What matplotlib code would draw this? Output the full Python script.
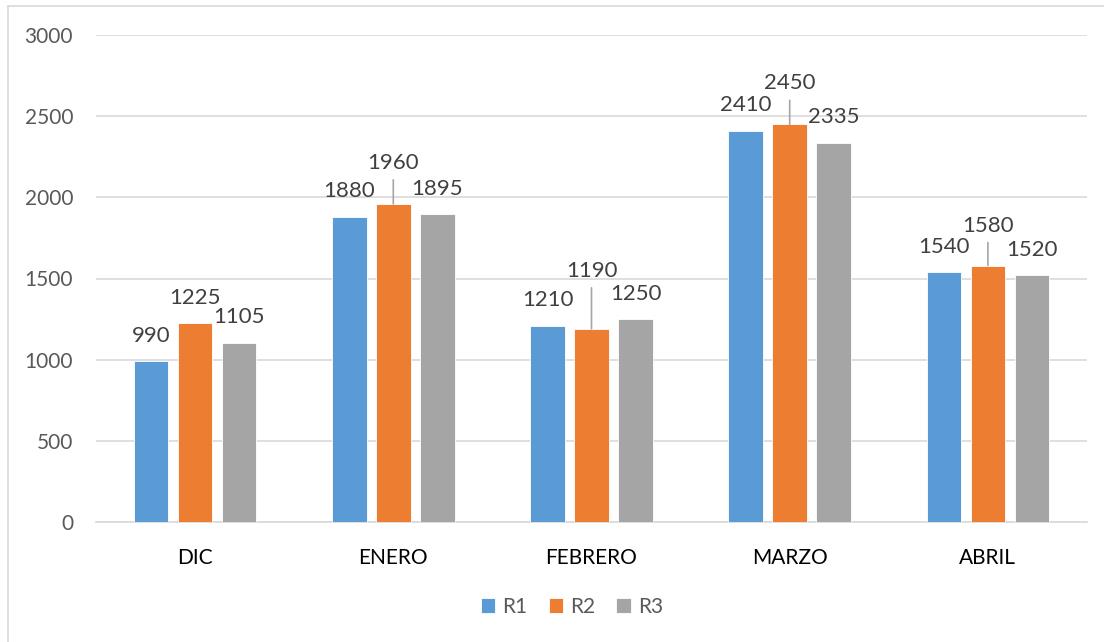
import numpy as np
import matplotlib.pyplot as plt
from matplotlib.lines import Line2D

plt.rcParams['font.family'] = ['Lato', 'DejaVu Sans']

# monthly values per series
meses = ["DIC", "ENERO", "FEBRERO", "MARZO", "ABRIL"]
r1 = [990, 1880, 1210, 2410, 1540]
r2 = [1225, 1960, 1190, 2450, 1580]
r3 = [1105, 1895, 1250, 2335, 1520]
series = ["R1", "R2", "R3"]
yticks = [0, 500, 1000, 1500, 2000, 2500, 3000]

colors = ["#5B9BD5", "#ED7D31", "#A5A5A5"]
# extra lift (pixels) of the R2 labels that got pulled up with a leader line
r2_lift = [25, 41, 58, 41, 40]
base_lift = 25.5

fig = plt.figure(figsize=(11.04, 6.42), dpi=100)
ax = fig.add_axes([96 / 1104, 1 - 522 / 642, 991 / 1104, 487 / 642])

x = np.arange(len(meses))
step = 0.222
width = 0.174
px2pt = 0.72

for j, (vals, name) in enumerate(zip([r1, r2, r3], series)):
    xs = x + (j - 1) * step
    ax.bar(xs, vals, width, color=colors[j], label=name, zorder=3,
           edgecolor="white", linewidth=0.6)
    for i, (xi, v) in enumerate(zip(xs, vals)):
        lift = r2_lift[i] if name == "R2" else base_lift
        ax.annotate(str(v), xy=(xi, v), xytext=(0, lift * px2pt),
                    textcoords="offset points", ha="center", va="center",
                    fontsize=16, color="#404040", zorder=4)
        if name == "R2" and lift > 30:
            # leader line from bar top up to the moved label
            ax.annotate("", xy=(xi, v), xytext=(0, (lift - 17) * px2pt),
                        textcoords="offset points",
                        arrowprops=dict(arrowstyle="-", color="#A6A6A6",
                                        lw=1.2, shrinkA=0, shrinkB=0))

ax.set_xlim(-0.5, len(meses) - 0.5)
ax.set_ylim(0, 3000)
ax.set_yticks(yticks)
ax.set_yticklabels([str(t) for t in yticks], fontsize=15, color="#595959")
ax.set_xticks(x)
ax.set_xticklabels(meses, fontsize=15, color="#000000")
ax.tick_params(axis="both", length=0)
ax.tick_params(axis="y", pad=16.5)
ax.tick_params(axis="x", pad=19)
ax.yaxis.grid(True, color="#D9D9D9", linewidth=1.2, zorder=0)
for s in ["top", "right", "left"]:
    ax.spines[s].set_visible(False)
ax.spines["bottom"].set_color("#D9D9D9")
ax.spines["bottom"].set_linewidth(1.2)

leg = ax.legend(loc="center", bbox_to_anchor=(572 / 1104, 1 - 607 / 642),
                bbox_transform=fig.transFigure, ncol=3, frameon=False,
                fontsize=15, handlelength=0.7, handleheight=0.7,
                handletextpad=0.35, columnspacing=1.0)
for t in leg.get_texts():
    t.set_color("#595959")

# chart frame (left and top edges fall inside the image)
fig.add_artist(Line2D([8 / 1104, 8 / 1104], [1 - 6 / 642, 0],
                      transform=fig.transFigure, color="#D9D9D9", lw=1.2))
fig.add_artist(Line2D([8 / 1104, 1], [1 - 6 / 642, 1 - 6 / 642],
                      transform=fig.transFigure, color="#D9D9D9", lw=1.2))

fig.savefig("out.png", dpi=100)
